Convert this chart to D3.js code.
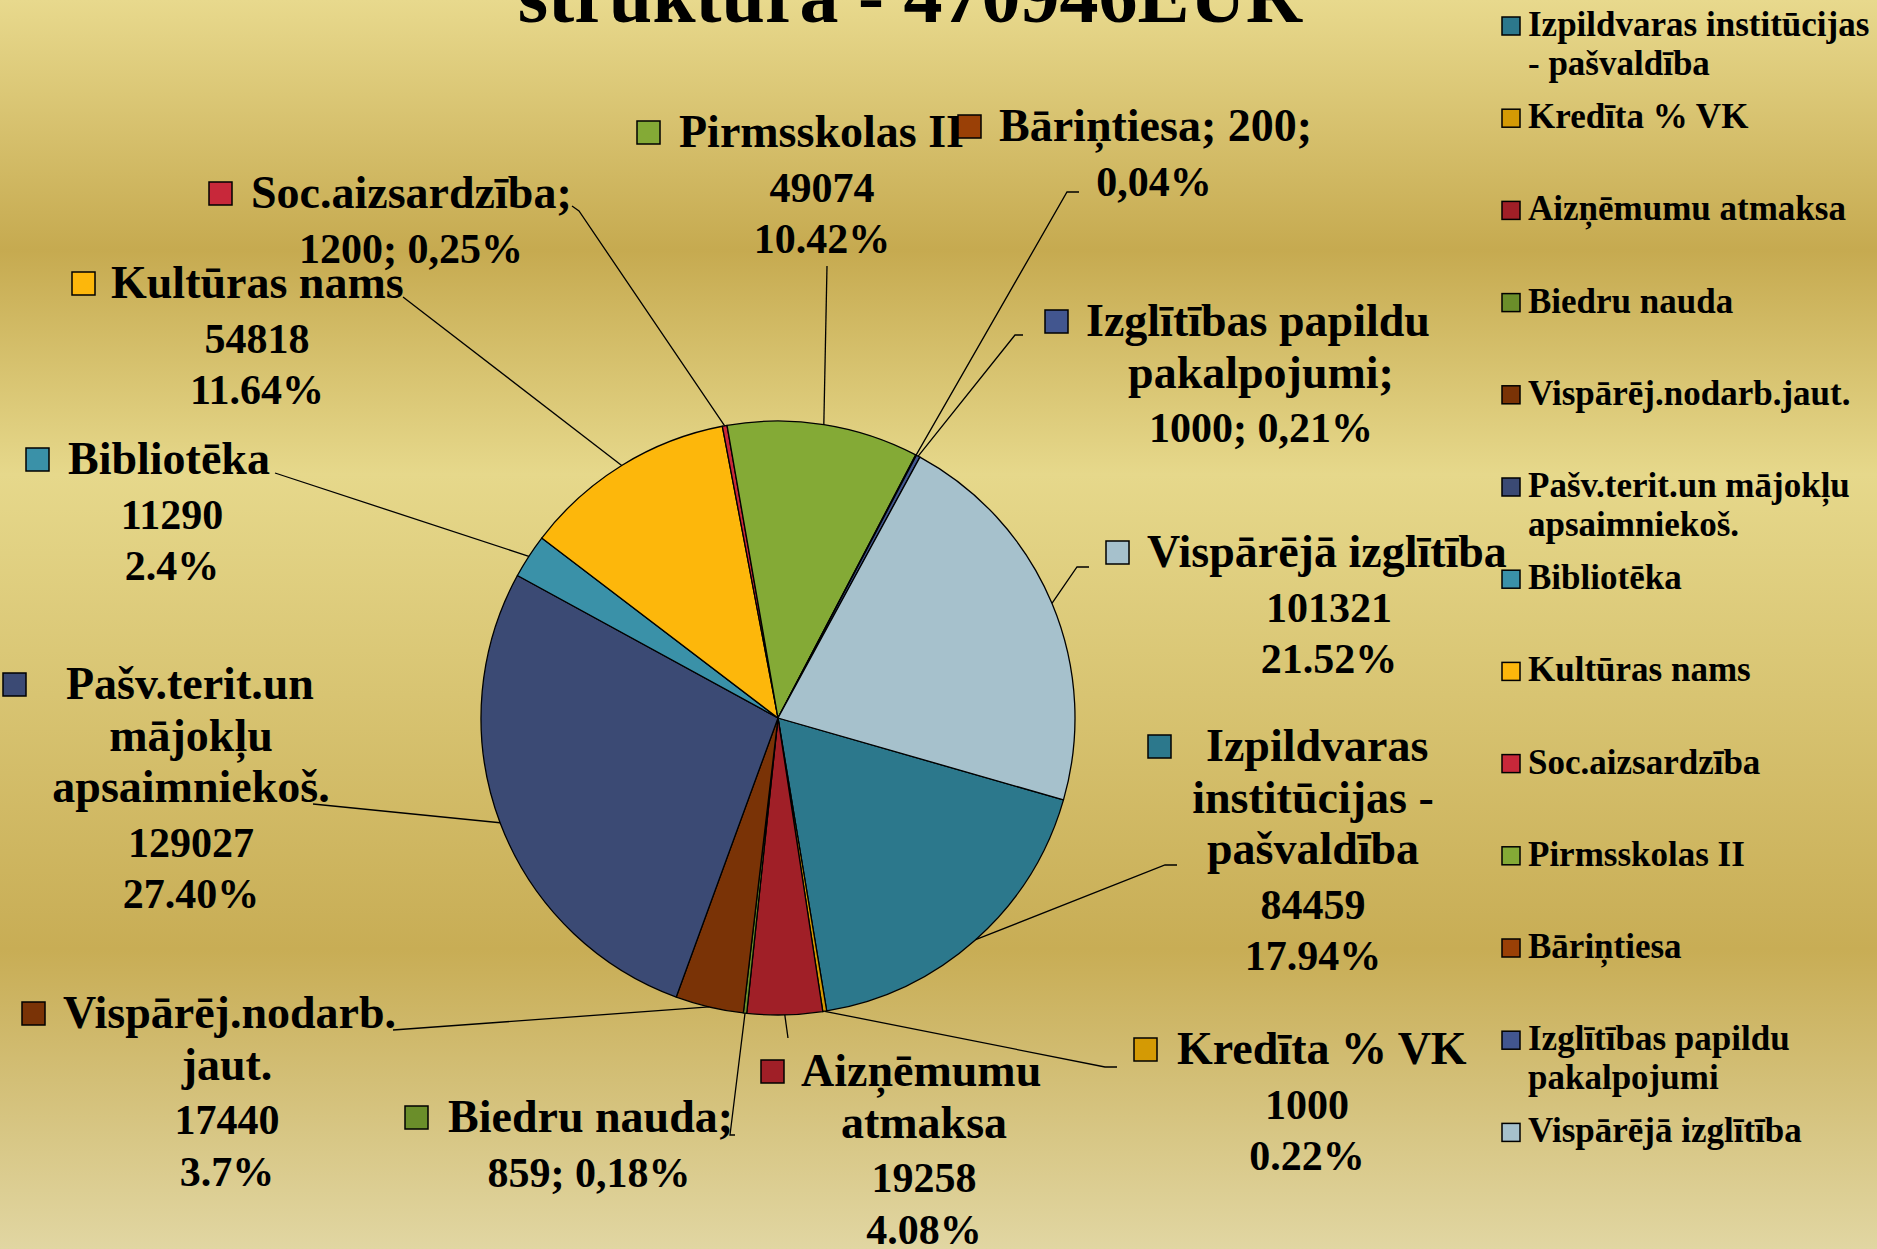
<!DOCTYPE html>
<html>
<head>
<meta charset="utf-8">
<script src="https://cdn.jsdelivr.net/npm/d3@7"></script>
<style>
  body { margin: 0; }
  svg { display: block; }
  text { font-family: "Liberation Serif", "Times New Roman", serif; font-weight: bold; fill: #000; }
</style>
</head>
<body>
<svg id="chart"></svg>
<script>
var width = 1877, height = 1249

// data, in the order the slices go round (clockwise)
var categories = ["Izpildvaras institūcijas - pašvaldība", "Kredīta % VK", "Aizņēmumu atmaksa",
  "Biedru nauda", "Vispārēj.nodarb.jaut.", "Pašv.terit.un mājokļu apsaimniekoš.", "Bibliotēka",
  "Kultūras nams", "Soc.aizsardzība", "Pirmsskolas II", "Bāriņtiesa",
  "Izglītības papildu pakalpojumi", "Vispārējā izglītība"]
var values = [84459, 1000, 19258, 859, 17440, 129027, 11290, 54818, 1200, 49074, 200, 1000, 101321]
var percents = ["17.94%", "0.22%", "4.08%", "0,18%", "3.7%", "27.40%", "2.4%", "11.64%", "0,25%",
  "10.42%", "0,04%", "0,21%", "21.52%"]
var colors = ["#2c788c", "#d49a04", "#a01f27", "#6b8e2a", "#7a3306", "#3b4a74", "#3a91a8",
  "#fdb70b", "#c8283a", "#84aa36", "#9a4006", "#42568f", "#a6c1cc"]

// data label text, line by line, as it stands on the slide
var labelLines = [
  ["Izpildvaras", "institūcijas -", "pašvaldība", "84459", "17.94%"],
  ["Kredīta % VK", "1000", "0.22%"],
  ["Aizņēmumu", "atmaksa", "19258", "4.08%"],
  ["Biedru nauda;", "859; 0,18%"],
  ["Vispārēj.nodarb.", "jaut.", "17440", "3.7%"],
  ["Pašv.terit.un", "mājokļu", "apsaimniekoš.", "129027", "27.40%"],
  ["Bibliotēka", "11290", "2.4%"],
  ["Kultūras nams", "54818", "11.64%"],
  ["Soc.aizsardzība;", "1200; 0,25%"],
  ["Pirmsskolas II", "49074", "10.42%"],
  ["Bāriņtiesa; 200;", "0,04%"],
  ["Izglītības papildu", "pakalpojumi;", "1000; 0,21%"],
  ["Vispārējā izglītība", "101321", "21.52%"]
]

var title = "struktūra - 470946EUR"

// where the labels were dragged to (px), and the start of each leader line
var labelLayout = [
  { x: 1206, cx: 1313, y: 761, sx: 1148, lead: [[1177, 865], [1165, 865]] },
  { x: 1177, cx: 1307, y: 1064, sx: 1134, lead: [[1117, 1067], [1105, 1067]] },
  { x: 801, cx: 924, y: 1086, sx: 761, lead: [[788, 1038]] },
  { x: 448, cx: 589, y: 1132, sx: 405, lead: [[735, 1135], [730, 1135]] },
  { x: 63, cx: 227, y: 1028, sx: 22, lead: [[393, 1030]] },
  { x: 66, cx: 191, y: 699, sx: 3, lead: [[313, 804]] },
  { x: 68, cx: 172, y: 474, sx: 26, lead: [[275, 473]] },
  { x: 111, cx: 257, y: 298, sx: 72, lead: [[403, 297]] },
  { x: 251, cx: 411, y: 208, sx: 209, lead: [[572, 206], [579, 211]] },
  { x: 679, cx: 822, y: 147, sx: 637, lead: [[827, 266]] },
  { x: 999, cx: 1154, y: 141, sx: 958, lead: [[1079, 192], [1067, 192]] },
  { x: 1086, cx: 1261, y: 336, sx: 1045, lead: [[1023, 335], [1015, 335]] },
  { x: 1147, cx: 1329, y: 567, sx: 1106, lead: [[1089, 567], [1077, 567]] }
]

var cx = 778, cy = 718, radius = 297
var rot = 106 * Math.PI / 180
var lineGap = 51.5

var svg = d3.select("#chart")
  .attr("width", width)
  .attr("height", height)

// gold slide background
var grad = svg.append("defs").append("linearGradient")
  .attr("id", "bg")
  .attr("x1", 0).attr("y1", 0).attr("x2", 0).attr("y2", 1)
grad.selectAll("stop")
  .data([[0, "#e8d98d"], [0.2, "#c6aa50"], [0.38, "#e6d88b"], [0.76, "#c8ad55"], [1, "#e1d6a2"]])
  .enter()
  .append("stop")
  .attr("offset", function(d) { return d[0] })
  .attr("stop-color", function(d) { return d[1] })

svg.append("rect")
  .attr("width", width)
  .attr("height", height)
  .attr("fill", "url(#bg)")

svg.append("text")
  .attr("x", 910)
  .attr("y", 22)
  .attr("text-anchor", "middle")
  .attr("font-size", 78)
  .text(title)

var pie = d3.pie()
  .sort(null)
  .value(function(d) { return d })
  .startAngle(rot)
  .endAngle(rot + 2 * Math.PI)

var arcs = pie(values)

var arc = d3.arc()
  .innerRadius(0)
  .outerRadius(radius)

var g = svg.append("g")
  .attr("transform", "translate(" + cx + "," + cy + ")")

g.selectAll("path")
  .data(arcs)
  .enter()
  .append("path")
  .attr("d", arc)
  .attr("fill", function(d, i) { return colors[i] })
  .attr("stroke", "#000")
  .attr("stroke-width", 1.3)
  .attr("stroke-linejoin", "round")

// leader lines: from the label to the rim at the middle of the slice
function rimPoint(d) {
  var a = (d.startAngle + d.endAngle) / 2
  return [cx + radius * Math.sin(a), cy - radius * Math.cos(a)]
}

svg.selectAll(".leader")
  .data(arcs)
  .enter()
  .append("path")
  .attr("class", "leader")
  .attr("fill", "none")
  .attr("stroke", "#000")
  .attr("stroke-width", 1.3)
  .attr("d", function(d, i) {
    return d3.line()(labelLayout[i].lead.concat([rimPoint(d)]))
  })

// data labels
var labels = svg.selectAll(".label")
  .data(arcs)
  .enter()
  .append("g")
  .attr("class", "label")

labels.append("rect")
  .attr("x", function(d, i) { return labelLayout[i].sx })
  .attr("y", function(d, i) { return labelLayout[i].y - 26 })
  .attr("width", 23)
  .attr("height", 23)
  .attr("fill", function(d, i) { return colors[i] })
  .attr("stroke", "#000")
  .attr("stroke-width", 1.5)

labels.each(function(d, i) {
  var L = labelLayout[i]
  d3.select(this).selectAll("text")
    .data(labelLines[i])
    .enter()
    .append("text")
    // number lines are set a little smaller (the slide uses old-style figures)
    .attr("font-size", function(t, j) { return j > 0 && /^[0-9]/.test(t) ? 42 : 46 })
    .attr("x", function(t, j) { return j == 0 ? L.x : L.cx })
    .attr("y", function(t, j) { return L.y + j * lineGap + (j > 0 && /^[0-9]/.test(t) ? 3 : 0) })
    .attr("text-anchor", function(t, j) { return j == 0 ? "start" : "middle" })
    .text(function(t) { return t })
})

// legend on the right
var legendY = d3.scaleLinear()
  .domain([0, categories.length - 1])
  .range([36, 36 + 92.2 * (categories.length - 1)])

var legend = svg.append("g")
  .selectAll("g")
  .data(categories)
  .enter()
  .append("g")
  .attr("transform", function(d, i) { return "translate(1502," + legendY(i) + ")" })

legend.append("rect")
  .attr("x", 0)
  .attr("y", -19)
  .attr("width", 18)
  .attr("height", 18)
  .attr("fill", function(d, i) { return colors[i] })
  .attr("stroke", "#000")
  .attr("stroke-width", 1.5)

legend.each(function(name) {
  var t = d3.select(this).append("text")
    .attr("x", 26)
    .attr("font-size", 35)
  // wrap the entry like the slide does
  var words = name.split(" "), line = []
  var tspan = t.append("tspan").attr("x", 26).attr("dy", 0)
  words.forEach(function(w) {
    line.push(w)
    tspan.text(line.join(" "))
    if (tspan.node().getComputedTextLength() > 350 && line.length > 1) {
      line.pop()
      tspan.text(line.join(" "))
      line = [w]
      tspan = t.append("tspan").attr("x", 26).attr("dy", 39).text(w)
    }
  })
})
</script>
</body>
</html>
